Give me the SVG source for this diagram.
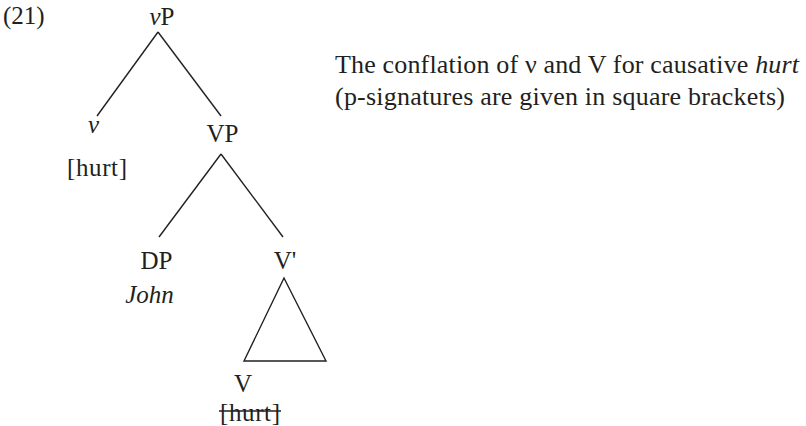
<svg xmlns="http://www.w3.org/2000/svg" width="806" height="426" viewBox="0 0 806 426">
<style>
text{font-family:"Liberation Serif","DejaVu Serif",serif;font-size:25px;fill:#231f20}
.c{font-size:26px}
.i{font-style:italic}
.m{text-anchor:middle}
line,polygon{stroke:#231f20;stroke-width:1.4;fill:none}
</style>
<rect width="806" height="426" fill="#fff"/>
<text x="3" y="24">(21)</text>
<g id="vP"><text x="162" y="25" class="m"><tspan class="i">v</tspan>P</text></g>
<g id="v"><text x="93.5" y="133" class="m i">v</text><text x="97" y="176" class="m" textLength="60" lengthAdjust="spacing">[hurt]</text></g>
<g id="VP"><text x="222.5" y="142" class="m">VP</text></g>
<g id="DP"><text x="156.5" y="269" class="m">DP</text><text x="149.5" y="303" class="m i">John</text></g>
<g id="Vbar"><text x="285" y="269" class="m">V'</text></g>
<g id="V"><text x="243" y="392" class="m">V</text><text x="250" y="421" class="m" textLength="60" lengthAdjust="spacing">[hurt]</text><line x1="219" y1="411" x2="281" y2="411"/></g>
<g id="connectors">
<line x1="158" y1="32" x2="97" y2="116"/>
<line x1="158" y1="32" x2="221" y2="116"/>
<line x1="221" y1="154" x2="159" y2="237"/>
<line x1="221" y1="154" x2="283" y2="237"/>
<polygon points="284,278 244,361 326,361"/>
</g>
<g id="caption">
<text class="c" x="335" y="73" textLength="464" lengthAdjust="spacing">The conflation of ν and V for causative <tspan class="i">hurt</tspan></text>
<text class="c" x="335" y="105" textLength="450" lengthAdjust="spacing">(p-signatures are given in square brackets)</text>
</g>
</svg>
